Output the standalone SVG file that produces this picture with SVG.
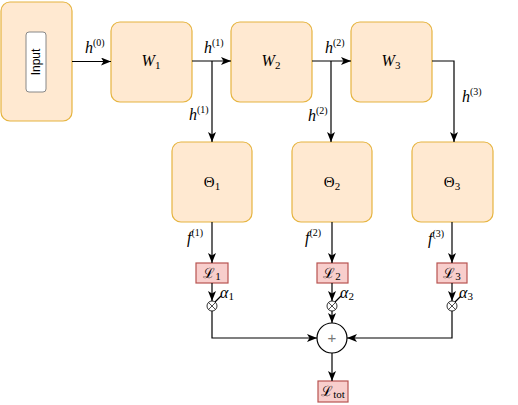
<svg xmlns="http://www.w3.org/2000/svg" width="518" height="405" viewBox="0 0 518 405">
<defs>
<marker id="arr" viewBox="0 0 10 8" refX="10" refY="4" markerWidth="10" markerHeight="8" markerUnits="userSpaceOnUse" orient="auto">
<path d="M0,0 L10,4 L0,8 L2.5,4 Z" fill="#000"/>
</marker>
</defs>
<style>
.blk{fill:#ffe9d1;stroke:#e6b440;stroke-width:1.2}
.loss{fill:#f8cecc;stroke:#b85450;stroke-width:1.2}
.ln{fill:none;stroke:#000;stroke-width:1.2}
.ar{marker-end:url(#arr)}
.m{font-family:"Liberation Serif","DejaVu Serif",serif;font-style:italic;font-size:16px;fill:#000}
.u{font-family:"Liberation Serif","DejaVu Serif",serif;font-style:normal;fill:#000}
.sup{font-family:"Liberation Serif","DejaVu Serif",serif;font-style:normal;font-size:10px}
.sub{font-family:"Liberation Serif","DejaVu Serif",serif;font-style:normal;font-size:11px}
.cal{font-family:"DejaVu Serif",serif;font-size:14px;fill:#000}
</style>
<g id="input">
<rect class="blk" x="1" y="2" width="71" height="119" rx="9"/>
<rect x="26" y="32" width="20" height="60" rx="3" fill="#fff" stroke="#888" stroke-width="1"/>
<text x="36" y="62" transform="rotate(-90 36 62)" text-anchor="middle" dominant-baseline="central" font-family="Liberation Sans, Arial, sans-serif" font-size="12">Input</text>
</g>
<g id="W1"><rect class="blk" x="111" y="22" width="81" height="80" rx="9"/><text class="m" x="151" y="66" text-anchor="middle" font-size="15">W<tspan class="sub" dy="3">1</tspan></text></g>
<g id="W2"><rect class="blk" x="231" y="22" width="81" height="80" rx="9"/><text class="m" x="271" y="66" text-anchor="middle" font-size="15">W<tspan class="sub" dy="3">2</tspan></text></g>
<g id="W3"><rect class="blk" x="351" y="22" width="81" height="80" rx="9"/><text class="m" x="391" y="66" text-anchor="middle" font-size="15">W<tspan class="sub" dy="3">3</tspan></text></g>
<g id="T1"><rect class="blk" x="172" y="142" width="80" height="80" rx="9"/><text class="u" x="212" y="187" text-anchor="middle" font-size="15">Θ<tspan class="sub" dy="3">1</tspan></text></g>
<g id="T2"><rect class="blk" x="292" y="142" width="80" height="80" rx="9"/><text class="u" x="332" y="187" text-anchor="middle" font-size="15">Θ<tspan class="sub" dy="3">2</tspan></text></g>
<g id="T3"><rect class="blk" x="412" y="142" width="81" height="80" rx="9"/><text class="u" x="452" y="187" text-anchor="middle" font-size="15">Θ<tspan class="sub" dy="3">3</tspan></text></g>
<g id="L1"><rect class="loss" x="196" y="263" width="32" height="20"/><text class="cal" x="212" y="278" text-anchor="middle">ℒ<tspan class="sub" dy="2">1</tspan></text></g>
<g id="L2"><rect class="loss" x="317" y="263" width="31" height="20"/><text class="cal" x="332" y="278" text-anchor="middle">ℒ<tspan class="sub" dy="2">2</tspan></text></g>
<g id="L3"><rect class="loss" x="437" y="263" width="30" height="20"/><text class="cal" x="452" y="278" text-anchor="middle">ℒ<tspan class="sub" dy="2">3</tspan></text></g>
<g id="Ltot"><rect class="loss" x="318" y="381" width="30" height="21"/><text class="cal" x="333" y="396" text-anchor="middle">ℒ<tspan class="sub" dy="2">tot</tspan></text></g>
<g id="otimes1"><circle cx="212" cy="306" r="5" fill="#fff" stroke="#000" stroke-width="0.8"/><path d="M208.5,302.5 L215.5,309.5 M215.5,302.5 L208.5,309.5" stroke="#000" stroke-width="0.7"/></g>
<g id="otimes2"><circle cx="332" cy="306" r="5" fill="#fff" stroke="#000" stroke-width="0.8"/><path d="M328.5,302.5 L335.5,309.5 M335.5,302.5 L328.5,309.5" stroke="#000" stroke-width="0.7"/></g>
<g id="otimes3"><circle cx="452" cy="306" r="5" fill="#fff" stroke="#000" stroke-width="0.8"/><path d="M448.5,302.5 L455.5,309.5 M455.5,302.5 L448.5,309.5" stroke="#000" stroke-width="0.7"/></g>
<g id="plus"><circle cx="332" cy="338" r="15" fill="#fff" stroke="#000" stroke-width="1.2"/><text x="332" y="343" text-anchor="middle" font-family="Liberation Sans, Arial, sans-serif" font-size="15" fill="#777">+</text></g>
<g id="connectors">
<path class="ln ar" d="M72,61.5 H111"/>
<path class="ln ar" d="M192,61 H231"/>
<path class="ln ar" d="M212,61 V142"/>
<path class="ln ar" d="M312,61 H351"/>
<path class="ln ar" d="M331,61 V142"/>
<path class="ln ar" d="M432,61 H454 V142"/>
<path class="ln ar" d="M212,222 V263"/>
<path class="ln ar" d="M332,222 V263"/>
<path class="ln ar" d="M452,222 V263"/>
<path class="ln ar" d="M212,283 V301"/>
<path class="ln ar" d="M332,283 V301"/>
<path class="ln ar" d="M452,283 V301"/>
<path class="ln" d="M215,302 L221,296"/>
<path class="ln" d="M335,302 L341,296"/>
<path class="ln" d="M455,302 L461,296"/>
<path class="ln ar" d="M212,311 V338 H317"/>
<path class="ln ar" d="M332,311 V323"/>
<path class="ln ar" d="M452,311 V338 H347"/>
<path class="ln ar" d="M332,353 V381"/>
</g>
<g id="labels">
<text class="m" x="85" y="53">h<tspan class="sup" dy="-7">(0)</tspan></text>
<text class="m" x="204" y="53">h<tspan class="sup" dy="-7">(1)</tspan></text>
<text class="m" x="189" y="120">h<tspan class="sup" dy="-7">(1)</tspan></text>
<text class="m" x="325" y="53">h<tspan class="sup" dy="-7">(2)</tspan></text>
<text class="m" x="308" y="121">h<tspan class="sup" dy="-7">(2)</tspan></text>
<text class="m" x="462" y="102">h<tspan class="sup" dy="-7">(3)</tspan></text>
<text class="m" x="187" y="243">f<tspan class="sup" dy="-7">(1)</tspan></text>
<text class="m" x="305" y="243">f<tspan class="sup" dy="-7">(2)</tspan></text>
<text class="m" x="428" y="244">f<tspan class="sup" dy="-7">(3)</tspan></text>
<text class="m" x="220" y="298">α<tspan class="sub" dy="2">1</tspan></text>
<text class="m" x="340" y="298">α<tspan class="sub" dy="2">2</tspan></text>
<text class="m" x="459" y="298">α<tspan class="sub" dy="2">3</tspan></text>
</g>
</svg>
